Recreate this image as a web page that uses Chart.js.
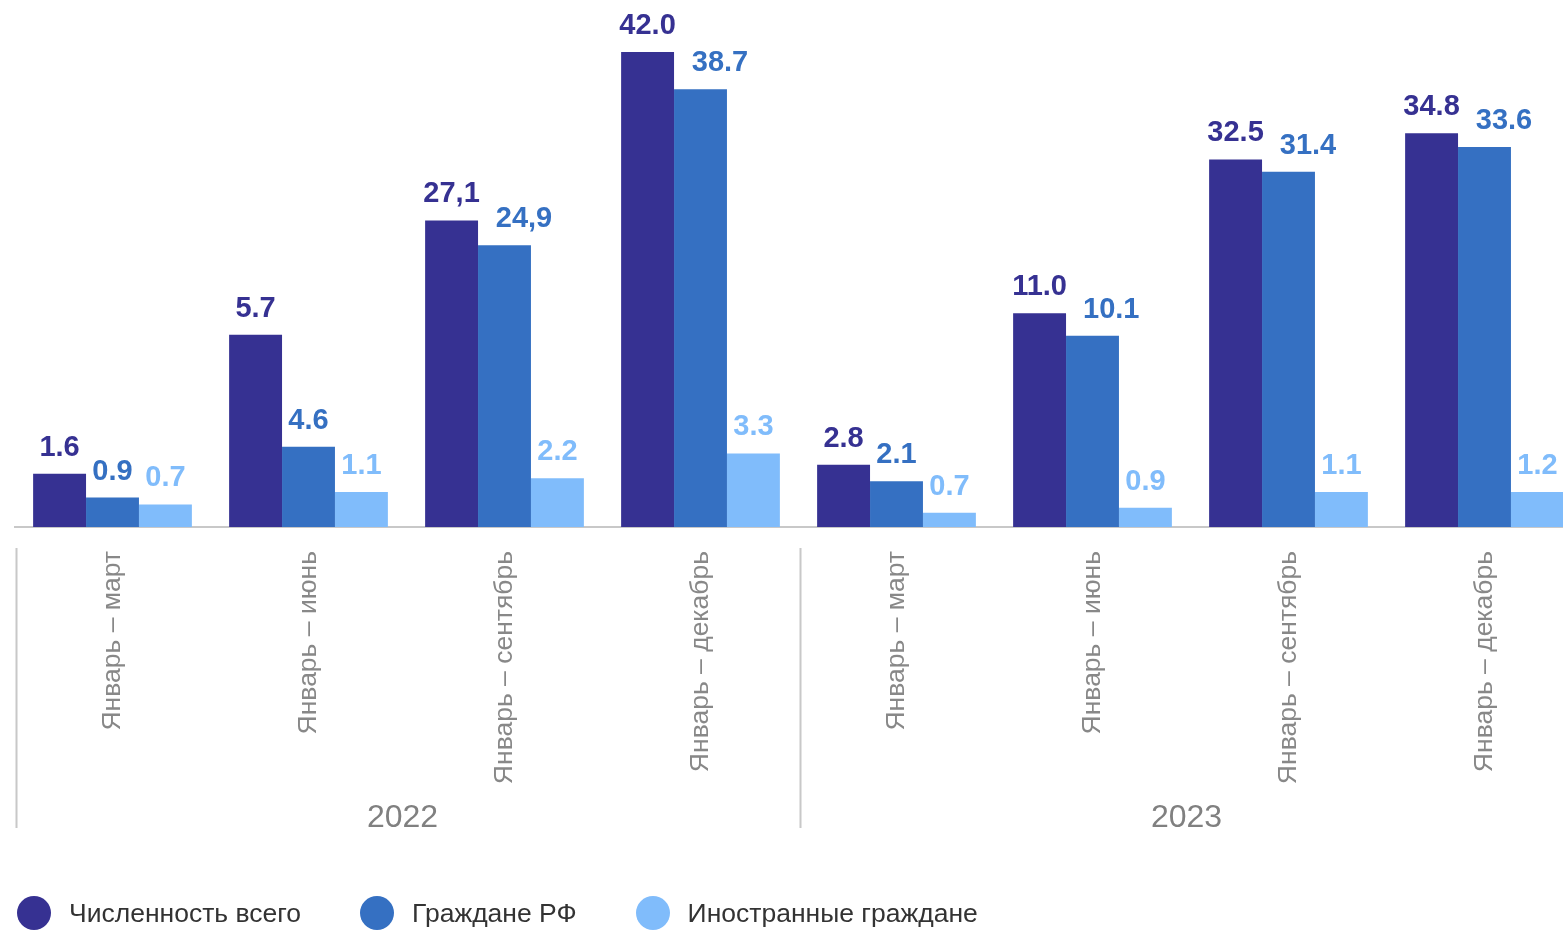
<!DOCTYPE html>
<html><head><meta charset="utf-8">
<script src="https://cdn.jsdelivr.net/npm/chart.js@4"></script>
<style>
html,body{margin:0;padding:0;background:#fff;overflow:hidden;width:1563px;height:932px;}
#wrap{position:relative;width:1600px;height:935px;}
#legend{position:absolute;left:17px;top:896px;display:flex;align-items:center;font-family:"Liberation Sans",Arial,sans-serif;font-size:26.5px;color:#333;}
.item{display:flex;align-items:center;margin-right:59px;height:34px;}
.dot{width:34px;height:34px;border-radius:50%;margin-right:18px;}
</style></head>
<body><div id="wrap"><canvas id="c" width="1600" height="935"></canvas><div id="legend"></div></div>
<script>
const categories = ['Январь – март','Январь – июнь','Январь – сентябрь','Январь – декабрь','Январь – март','Январь – июнь','Январь – сентябрь','Январь – декабрь'];
const years = ['2022','2023'];
const periodsPerYear = 4;
const seriesNames = ['Численность всего','Граждане РФ','Иностранные граждане'];
const seriesColors = ['#363192','#3570C2','#80BCFB'];
// bar heights as drawn in the picture
const totalValues   = [4.7, 17.0, 27.1, 42.0, 5.5, 18.9, 32.5, 34.8];
const citizenValues = [2.6, 7.1, 24.9, 38.7, 4.05, 16.9, 31.4, 33.6];
const foreignValues = [2.0, 3.1, 4.3, 6.5, 1.25, 1.7, 3.1, 3.1];
// value labels as printed in the picture
const totalLabels   = ['1.6','5.7','27,1','42.0','2.8','11.0','32.5','34.8'];
const citizenLabels = ['0.9','4.6','24,9','38.7','2.1','10.1','31.4','33.6'];
const foreignLabels = ['0.7','1.1','2.2','3.3','0.7','0.9','1.1','1.2'];

const seriesValues = [totalValues, citizenValues, foreignValues];
const seriesLabels = [totalLabels, citizenLabels, foreignLabels];
const FONT = '"Liberation Sans", Arial, sans-serif';

const valueLabelPlugin = {
  id: 'valueLabels',
  afterDatasetsDraw(chart) {
    const ctx = chart.ctx;
    ctx.save();
    ctx.font = 'bold 29px ' + FONT;
    ctx.textBaseline = 'alphabetic';
    ctx.textAlign = 'left';
    const boxes = {};
    chart.data.datasets.forEach((ds, di) => {
      const meta = chart.getDatasetMeta(di);
      meta.data.forEach((bar, i) => {
        const txt = seriesLabels[di][i];
        const w = ctx.measureText(txt).width;
        let left = bar.x - w / 2;
        const base = bar.y - 18;
        const prev = boxes[(di - 1) + '_' + i];
        if (prev && Math.abs(prev.base - base) < 40 && left < prev.right + 10) {
          left = prev.right + 16;
        }
        boxes[di + '_' + i] = {right: left + w, base};
        ctx.fillStyle = seriesColors[di];
        ctx.fillText(txt, left, base);
      });
    });
    ctx.restore();
  }
};

const groupPlugin = {
  id: 'yearGroups',
  afterDraw(chart) {
    const x = chart.scales.x, ctx = chart.ctx;
    const step = x.getPixelForValue(1) - x.getPixelForValue(0);
    ctx.save();
    ctx.strokeStyle = '#c8c8c8';
    ctx.lineWidth = 2;
    ctx.fillStyle = '#808080';
    ctx.font = '32px ' + FONT;
    ctx.textAlign = 'center';
    ctx.textBaseline = 'alphabetic';
    years.forEach((yr, k) => {
      const s = k * periodsPerYear, e = s + periodsPerYear - 1;
      const lx = x.getPixelForValue(s) - step / 2 + 2;
      ctx.beginPath();
      ctx.moveTo(lx, x.top + 21);
      ctx.lineTo(lx, x.top + 301);
      ctx.stroke();
      const cx = (x.getPixelForValue(s) + x.getPixelForValue(e)) / 2 - 4;
      ctx.fillText(yr, cx, x.top + 300);
    });
    const rx = x.getPixelForValue(categories.length - 1) + step / 2;
    ctx.beginPath(); ctx.moveTo(rx, x.top + 21); ctx.lineTo(rx, x.top + 301); ctx.stroke();
    ctx.restore();
  }
};

new Chart(document.getElementById('c'), {
  type: 'bar',
  data: {
    labels: categories,
    datasets: seriesNames.map((n, i) => ({
      label: n,
      data: seriesValues[i],
      backgroundColor: seriesColors[i],
      borderWidth: 0,
      categoryPercentage: 0.81,
      barPercentage: 1.0
    }))
  },
  options: {
    responsive: false,
    animation: false,
    layout: {padding: {left: 14.5, right: 17.5, top: 18, bottom: 108}},
    plugins: {legend: {display: false}, tooltip: {enabled: false}},
    scales: {
      x: {
        grid: {display: false, drawTicks: false},
        border: {display: true, color: '#c8c8c8', width: 2},
        ticks: {
          autoSkip: false, minRotation: 90, maxRotation: 90, padding: 24,
          color: '#888888', font: {family: FONT, size: 26.5}
        },
        afterFit(scale) { scale.height = 300; }
      },
      y: {display: false, min: 0, max: 45}
    }
  },
  plugins: [valueLabelPlugin, groupPlugin]
});

const lg = document.getElementById('legend');
seriesNames.forEach((n, i) => {
  const it = document.createElement('div'); it.className = 'item';
  const d = document.createElement('div'); d.className = 'dot'; d.style.background = seriesColors[i];
  const t = document.createElement('span'); t.textContent = n;
  it.appendChild(d); it.appendChild(t); lg.appendChild(it);
});
</script>
</body></html>
